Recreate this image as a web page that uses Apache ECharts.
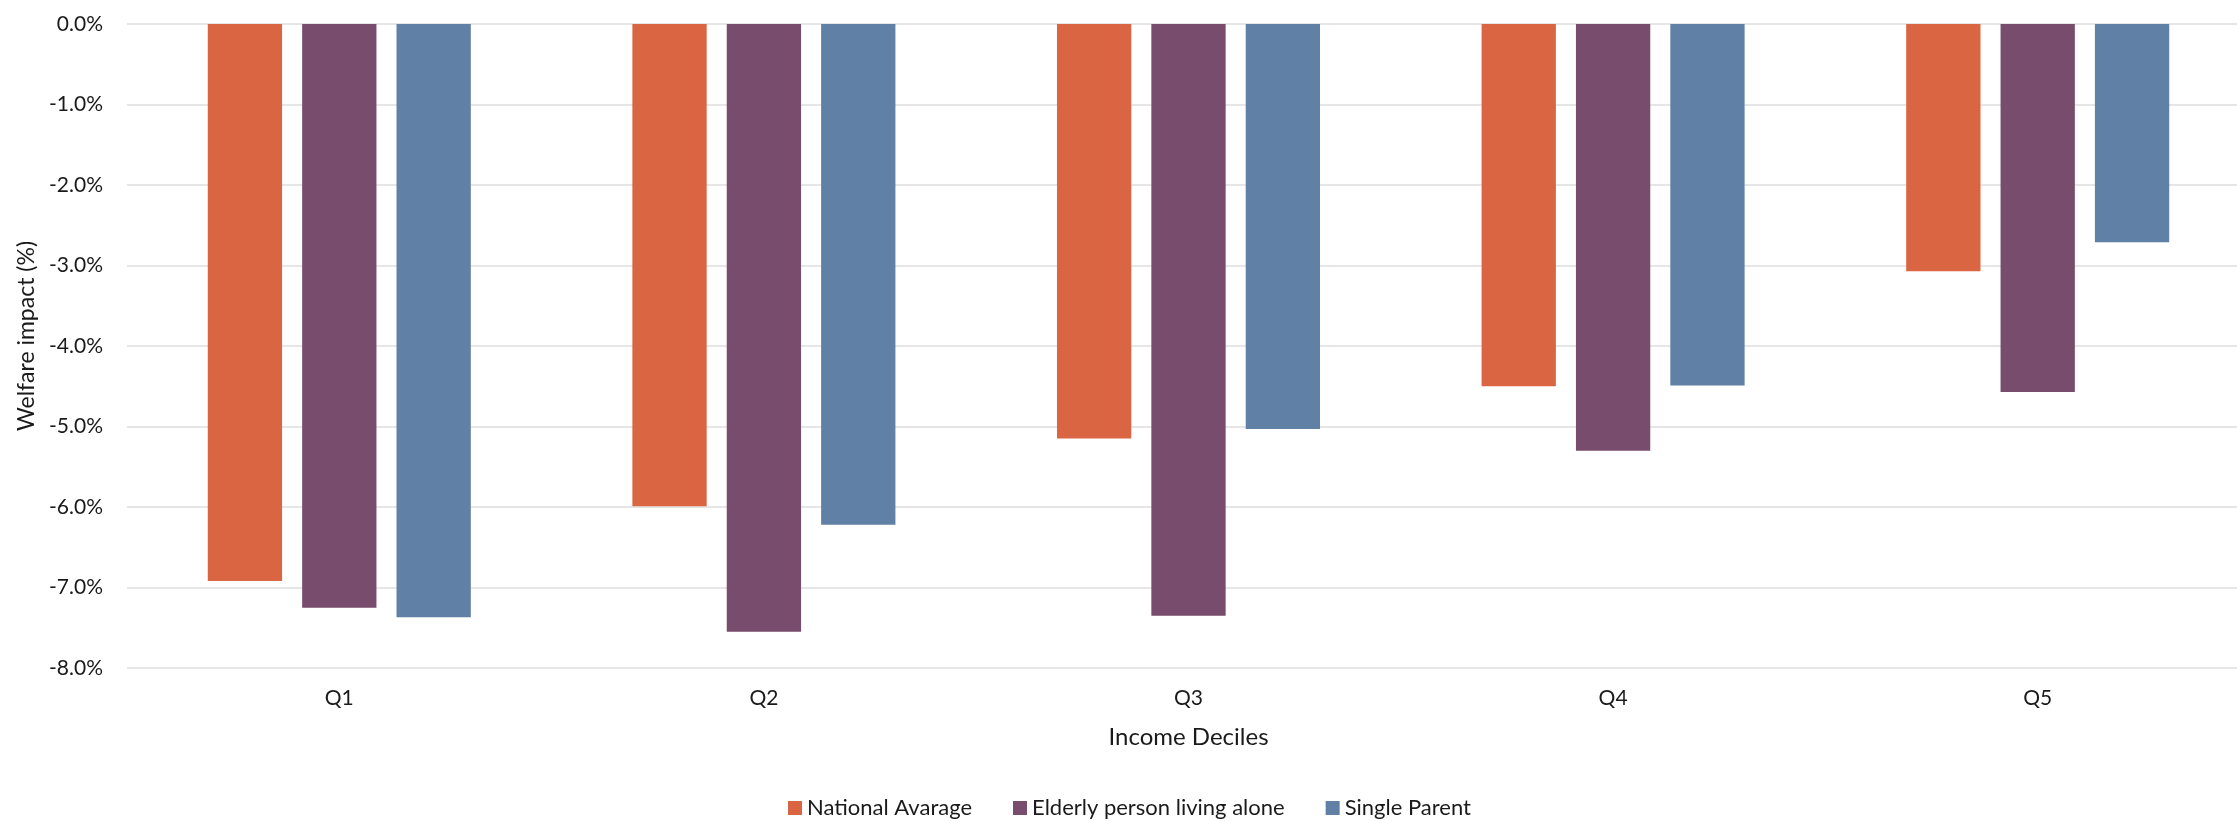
<!DOCTYPE html>
<html>
<head>
<meta charset="utf-8">
<title>Welfare impact by income decile</title>
<script src="https://cdn.jsdelivr.net/npm/echarts@6/dist/echarts.min.js"></script>
<style>
  html, body { margin: 0; padding: 0; background: #ffffff; }
  #chart { width: 2237px; height: 821px; }
</style>
</head>
<body>
<div id="chart"></div>
<script>
// Income groups along the x axis
const categories = ['Q1', 'Q2', 'Q3', 'Q4', 'Q5'];

// Welfare impact in percent, one array per household type
const nationalAverage = [-6.92, -5.99, -5.15, -4.50, -3.07];
const elderlyAlone = [-7.25, -7.55, -7.35, -5.30, -4.57];
const singleParent = [-7.37, -6.22, -5.03, -4.49, -2.71];

// Series names shown in the legend
const seriesNames = ['National Avarage', 'Elderly person living alone', 'Single Parent'];

// Value axis range and step (percent)
const yMin = -8;
const yMax = 0;
const yStep = 1;

const colors = ['#DA6542', '#784C6C', '#6180A6'];
const font = 'Lato, "Open Sans", sans-serif';
const textColor = '#1a1a1a';

const chart = echarts.init(document.getElementById('chart'), null, { renderer: 'canvas' });

const seriesData = [nationalAverage, elderlyAlone, singleParent];

chart.setOption({
  backgroundColor: '#ffffff',
  animation: false,
  color: colors,
  textStyle: { fontFamily: font, color: textColor },
  // the plot area runs slightly past the right edge of the canvas
  grid: {
    left: 127,
    right: -13,
    top: 24,
    bottom: 153,
    containLabel: false,
    outerBoundsMode: 'none'
  },
  legend: {
    data: seriesNames,
    left: 788,
    top: 797,
    padding: 0,
    itemWidth: 14,
    itemHeight: 14,
    itemGap: 41,
    icon: 'rect',
    textStyle: {
      fontFamily: font,
      fontSize: 22,
      color: textColor
    }
  },
  xAxis: {
    type: 'category',
    data: categories,
    position: 'bottom',
    axisLine: { show: false },
    axisTick: { show: false },
    axisLabel: {
      margin: 20,
      fontSize: 21,
      fontFamily: font,
      color: textColor
    },
    name: 'Income Deciles',
    nameLocation: 'middle',
    nameGap: 57,
    nameTextStyle: { fontSize: 24, fontFamily: font, color: textColor }
  },
  yAxis: {
    type: 'value',
    min: yMin,
    max: yMax,
    interval: yStep,
    axisLine: { show: false },
    axisTick: { show: false },
    splitLine: { lineStyle: { color: '#dedede', width: 1.5 } },
    axisLabel: {
      margin: 24,
      fontSize: 21,
      fontFamily: font,
      color: textColor,
      formatter: v => v.toFixed(1) + '%'
    },
    name: 'Welfare impact (%)',
    nameLocation: 'middle',
    nameGap: 88,
    nameTextStyle: { fontSize: 23, fontFamily: font, color: textColor, padding: [0, 0, 0, 20] }
  },
  series: seriesNames.map((name, i) => ({
    name: name,
    type: 'bar',
    data: seriesData[i],
    barWidth: '17.5%',
    barGap: '27%',
    itemStyle: { color: colors[i] }
  }))
});
</script>
</body>
</html>
